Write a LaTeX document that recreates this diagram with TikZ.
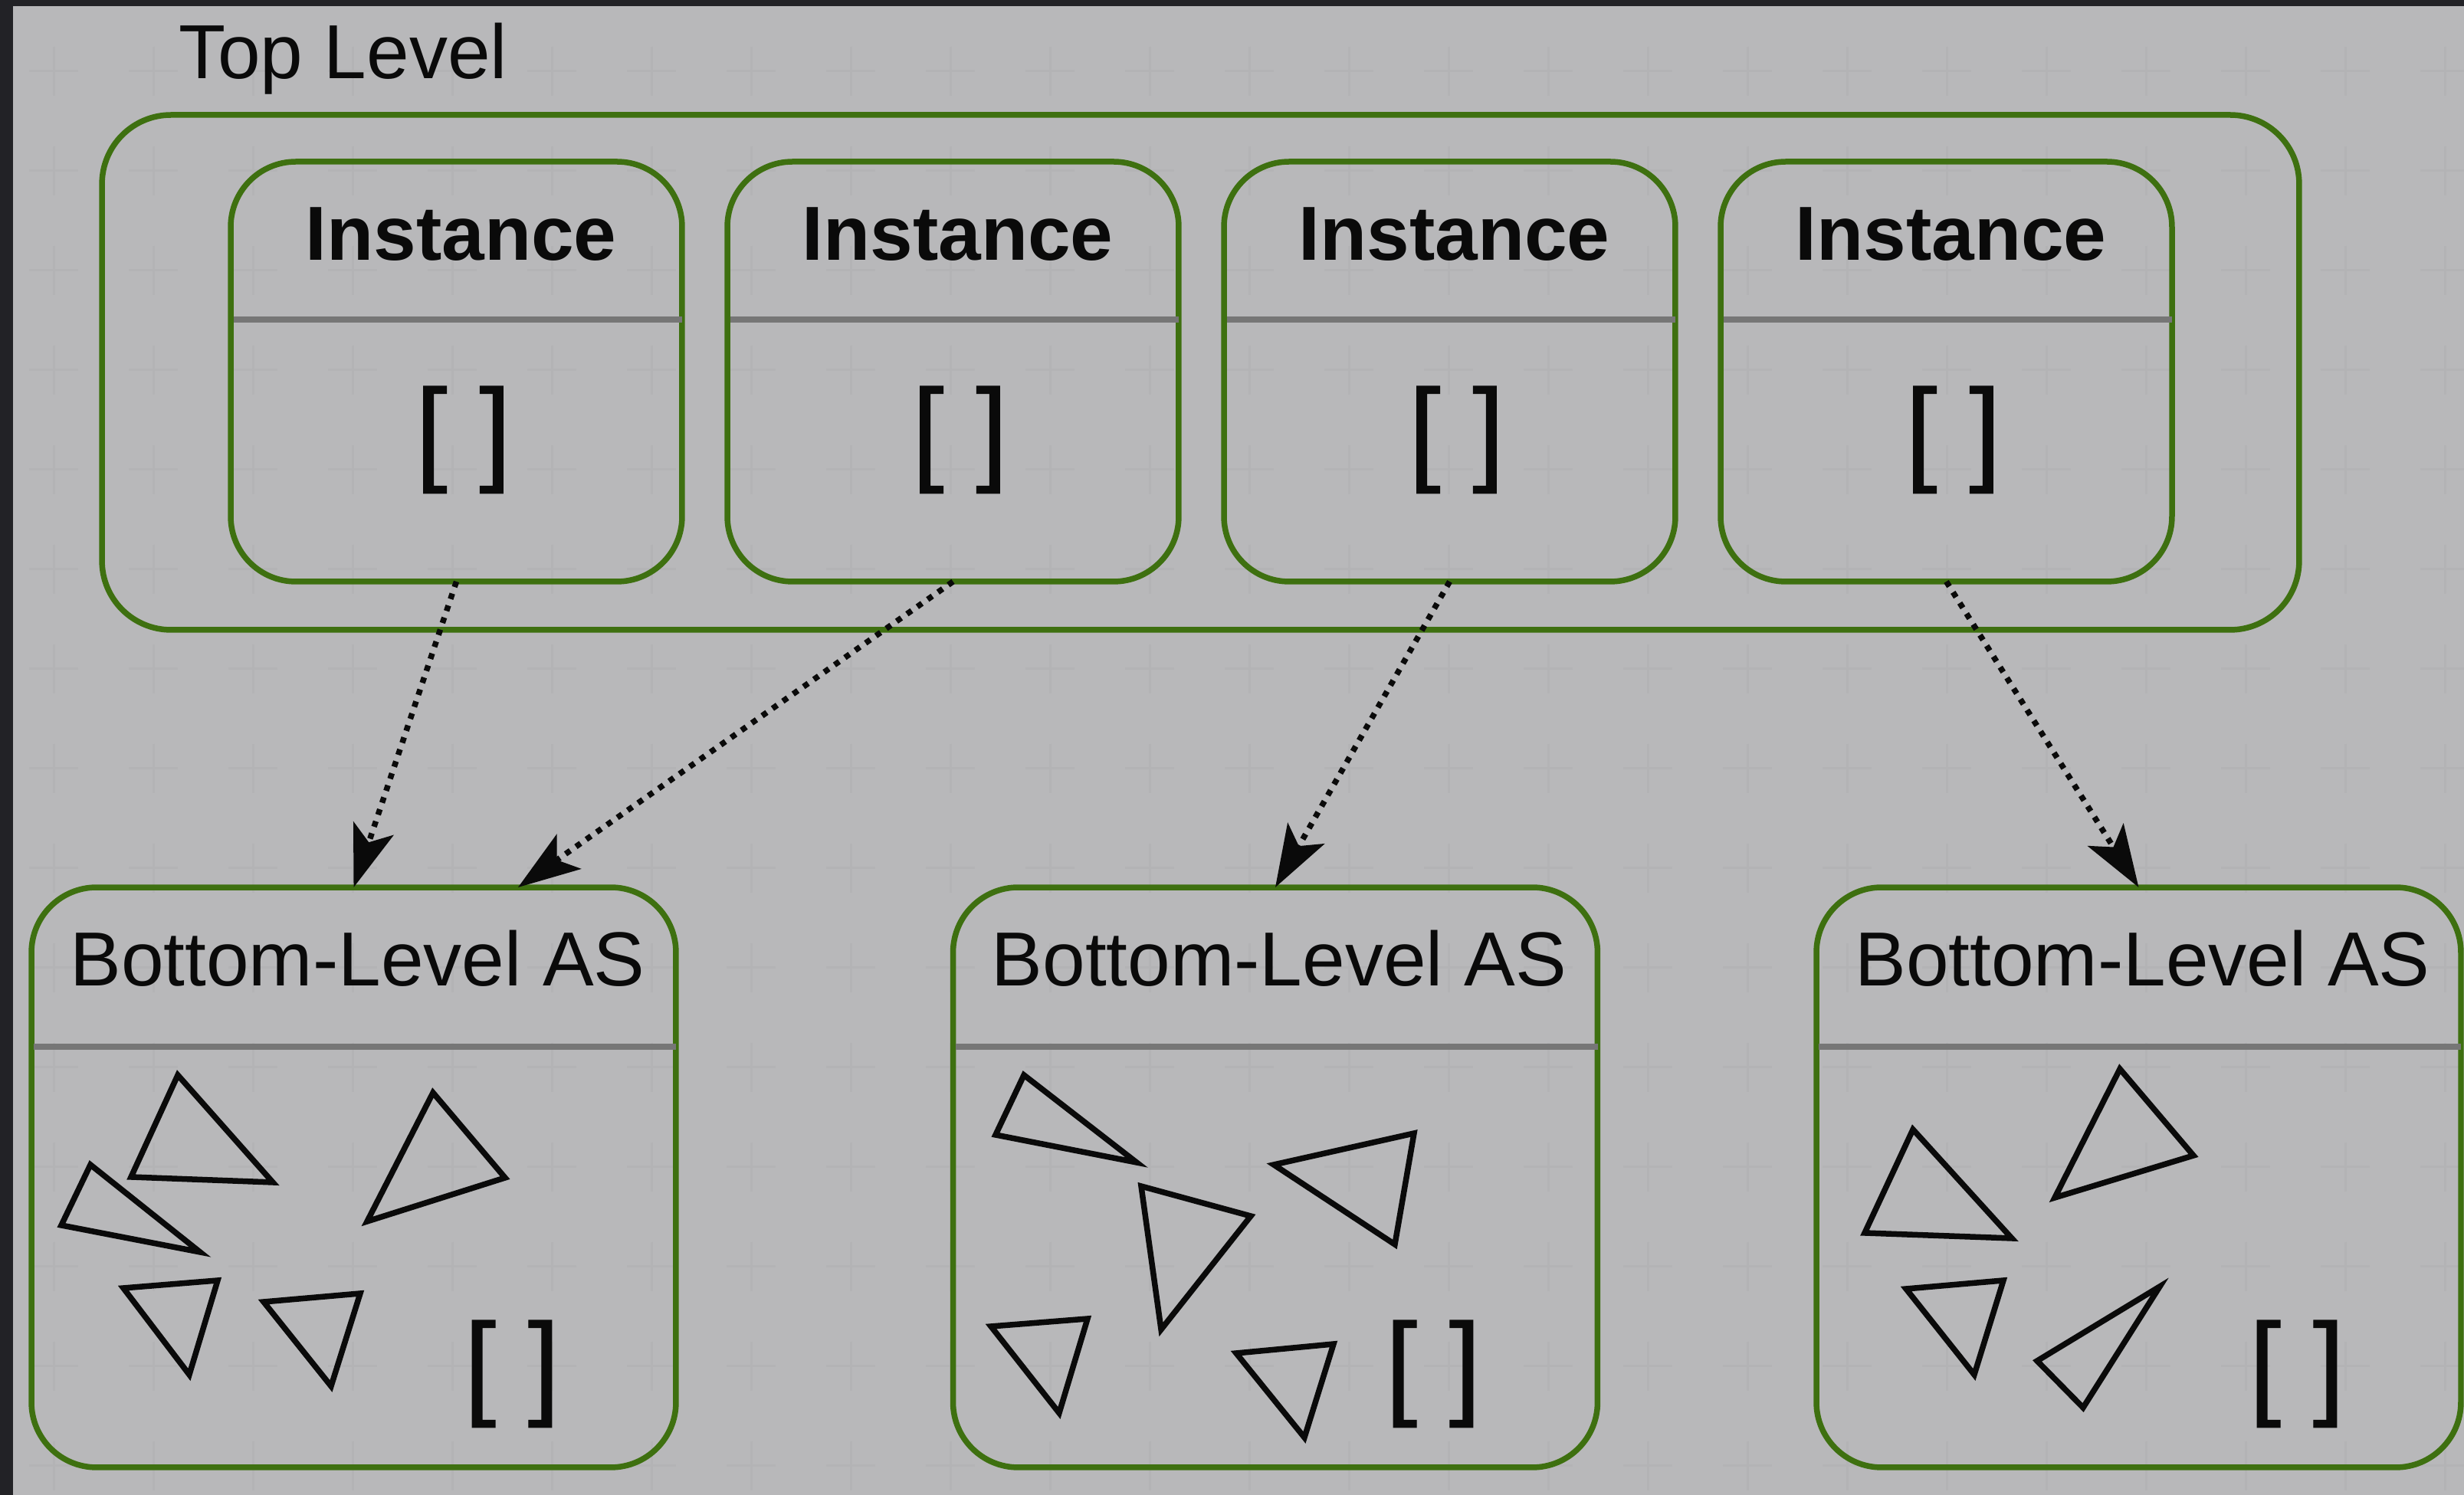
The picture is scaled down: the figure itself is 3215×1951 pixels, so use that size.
\documentclass[tikz,border=0pt]{standalone}
\usepackage{fontspec}
\setmainfont{Liberation Sans}
\newfontfamily\brkfont[FakeBold=0.8]{Liberation Sans}
\usetikzlibrary{arrows.meta,calc}
\definecolor{bgframe}{RGB}{34,34,38}
\definecolor{bggray}{RGB}{184,184,186}
\definecolor{gridc}{RGB}{179,179,181}
\definecolor{boxgreen}{RGB}{62,112,16}
\definecolor{sepgray}{RGB}{118,118,118}
\definecolor{ink}{RGB}{10,10,10}
\begin{document}
\begin{tikzpicture}[x=0.1pt,y=-0.1pt,
  greenbox/.style={draw=boxgreen, line width=0.75pt, rounded corners=8.5pt, inner sep=0pt, outer sep=0pt},
  outerbox/.style={greenbox, rounded corners=9pt, minimum width=286.7pt, minimum height=67.2pt},
  instbox/.style={greenbox, minimum width=58.9pt, minimum height=54.8pt},
  blasbox/.style={greenbox, minimum width=84.1pt, minimum height=75.7pt},
  sepline/.style={draw=sepgray, line width=0.75pt},
  gridcross/.style={draw=gridc, line width=0.3pt},
  tri/.style={draw=ink, line width=0.75pt, line join=miter},
  headtxt/.style={text=ink, inner sep=0pt, anchor=base, font=\fontsize{10pt}{12pt}\selectfont},
  insttxt/.style={headtxt, font=\bfseries\fontsize{10pt}{12pt}\selectfont},
  brk/.style={text=ink, inner sep=0pt, font=\brkfont\fontsize{15pt}{18pt}\selectfont},
  dotarrow/.style={draw=ink, line width=0.75pt, dash pattern=on 0.75pt off 0.9pt,
    -{Stealth[length=8.1pt,width=5.5pt,inset=1.9pt]}}
]
\useasboundingbox (0,0) rectangle (3215,1951);
\clip (0,0) rectangle (3215,1951);
% background
\fill[bgframe] (0,0) rectangle (3215,1951);
\fill[bggray] (17,8) rectangle (3215,1951);
\foreach \gx in {70,200,...,3190}{
  \foreach \gy in {93,223,...,1913}{
    \draw[gridcross] (\gx-32,\gy) -- (\gx+32,\gy) (\gx,\gy-32) -- (\gx,\gy+32);
  }
}
% top level
\node[headtxt, anchor=base west] (toplabel) at (232,103) {Top Level};
\node[outerbox] (top) at (1566.5,486) {};
\foreach \cx [count=\i] in {595.5,1243.5,1891.5,2539.5}{
  \node[instbox] (inst\i) at (\cx,485) {};
  \draw[sepline] (\cx-291,417) -- (\cx+294.5,417);
  \node[insttxt] (insttitle\i) at (\cx+6,340) {Instance};
  \node[brk] (instbr\i) at (\cx+9,574) {[ ]};
}
% bottom level boxes
\foreach \cx/\bx [count=\i] in {461.5/668,1664/1870,2790.5/2997}{
  \node[blasbox] (bl\i) at (\cx,1536.5) {};
  \draw[sepline] (\cx-417.5,1366) -- (\cx+420.5,1366);
  \node[headtxt] (bltitle\i) at (\cx+5,1287) {Bottom-Level AS};
  \node[brk] (blbr\i) at (\bx,1793) {[ ]};
}
% triangles box 1
\draw[tri] (232,1403) -- (171,1536) -- (356,1543) -- cycle;
\draw[tri] (118,1520) -- (80,1599) -- (261,1634) -- cycle;
\draw[tri] (565,1426) -- (479,1594) -- (659,1537) -- cycle;
\draw[tri] (161,1681) -- (284,1671) -- (247,1794) -- cycle;
\draw[tri] (344,1699) -- (470,1688) -- (432,1809) -- cycle;
% triangles box 2
\draw[tri] (1336,1403) -- (1299,1481) -- (1483,1517) -- cycle;
\draw[tri] (1845,1479) -- (1662,1520) -- (1820,1624) -- cycle;
\draw[tri] (1489,1548) -- (1632,1587) -- (1515,1735) -- cycle;
\draw[tri] (1293,1731) -- (1419,1721) -- (1382,1844) -- cycle;
\draw[tri] (1613,1766) -- (1740,1754) -- (1702,1876) -- cycle;
% triangles box 3
\draw[tri] (2496,1474) -- (2433,1609) -- (2625,1616) -- cycle;
\draw[tri] (2766,1395) -- (2681,1563) -- (2862,1508) -- cycle;
\draw[tri] (2487,1682) -- (2614,1671) -- (2576,1794) -- cycle;
\draw[tri] (2818,1679) -- (2658,1776) -- (2718,1837) -- cycle;
% connectors
\coordinate (bl1r) at ($(bl1.north west)!0.755!(bl1.north east)$);
\draw[dotarrow] (inst1.south) -- (bl1.north);
\draw[dotarrow] (inst2.south) -- (bl1r);
\draw[dotarrow] (inst3.south) -- (bl2.north);
\draw[dotarrow] (inst4.south) -- (bl3.north);
\end{tikzpicture}
\end{document}
